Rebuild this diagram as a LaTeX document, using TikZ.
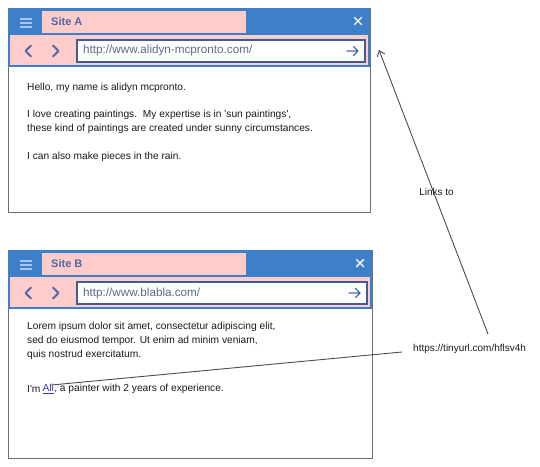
\documentclass[tikz,border=0pt]{standalone}
\usepackage{fontspec}
\setmainfont{Liberation Sans}
\usetikzlibrary{arrows.meta,calc}
\definecolor{hdrblue}{HTML}{3D7FC9}
\definecolor{tabpink}{HTML}{FFCCCC}
\definecolor{navblue}{HTML}{4A68A6}
\definecolor{barblue}{HTML}{3F5C99}
\definecolor{urlgray}{HTML}{5B6B88}
\definecolor{burger}{HTML}{A9C6F0}
\definecolor{framegray}{HTML}{6E6E6E}
\definecolor{linkblue}{HTML}{3434C0}
\definecolor{txt}{HTML}{1A1A1A}
\tikzset{
  frame/.style={draw=framegray, line width=1pt, fill=white},
  hdr/.style={fill=hdrblue},
  tabbox/.style={fill=tabpink},
  toolbar/.style={fill=tabpink, draw=hdrblue, line width=1.6pt},
  addr/.style={fill=white, draw=barblue, line width=1.6pt},
  sitetitle/.style={font=\fontsize{11}{13}\selectfont\bfseries, text=navblue, anchor=west, inner sep=0pt},
  urltext/.style={font=\fontsize{11.7}{13}\selectfont, text=urlgray, anchor=west, inner sep=0pt},
  body/.style={font=\fontsize{10.2}{12}\selectfont, text=txt, anchor=west, inner sep=0pt},
  note/.style={font=\fontsize{10}{12}\selectfont, text=txt, inner sep=1pt},
  navicon/.style={draw=navblue, line width=2pt, line cap=round, line join=round},
  burgerline/.style={draw=burger, line width=1.6pt},
  closeicon/.style={draw=white, line width=1.4pt, line cap=round},
  connector/.style={draw=black!70, line width=0.9pt},
}
\newcommand{\browserwin}[5]{% #1 name, #2 top y, #3 right x, #4 bottom y, #5 title
  \begin{scope}[shift={(0,#2)}]
    \path[frame] (8,0) rectangle (#3,#4-#2);
    \path[hdr] (8,0) rectangle (#3,26);
    \path[tabbox] (42,3) rectangle (246,26);
    \foreach \yy in {11,15,19} \draw[burgerline] (20,\yy) -- (32,\yy);
    \draw[closeicon] (#3-15.5,9.5) -- (#3-8.5,16.5) (#3-15.5,16.5) -- (#3-8.5,9.5);
    \node[sitetitle] (#1title) at (51,14) {#5};
    \path[toolbar] (8.8,26) rectangle (#3-0.8,58);
    \path[addr] (77,32) rectangle (#3-5,54);
    \draw[navicon] (31,37.5) -- (25.5,43) -- (31,48.5);
    \draw[navicon] (53,37.5) -- (58.5,43) -- (53,48.5);
    \draw[navicon, line width=1.3pt] (#3-23,43) -- (#3-12,43) (#3-16.5,38.5) -- (#3-12,43) -- (#3-16.5,47.5);
  \end{scope}
}
\begin{document}
\begin{tikzpicture}[x=1pt,y=-1pt]
\useasboundingbox (0,0) rectangle (540,466);
% Site A
\browserwin{a}{8}{370}{212}{Site A}
\node[urltext] (aurl) at (83,50) {http://www.alidyn-mcpronto.com/};
\node[body] (a1) at (27,88) {Hello, my name is alidyn mcpronto.};
\node[body] (a2) at (27,115) {I love creating paintings.\ \ My expertise is in \textquotesingle sun paintings\textquotesingle,};
\node[body] (a3) at (27,129) {these kind of paintings are created under sunny circumstances.};
\node[body] (a4) at (27,157) {I can also make pieces in the rain.};
% Site B
\browserwin{b}{250}{372}{458}{Site B}
\node[urltext] (burl) at (83,293) {http://www.blabla.com/};
\node[body] (b1) at (27,327) {Lorem ipsum dolor sit amet, consectetur adipiscing elit,};
\node[body] (b2) at (27,341) {sed do eiusmod tempor. Ut enim ad minim veniam,};
\node[body] (b3) at (27,355) {quis nostrud exercitatum.};
\node[body] (b4a) at (27,389) {I\textquotesingle m};
\node[body, anchor=west] (ali) at (b4a.east) {\,\textcolor{linkblue}{\underline{Ali}}};
\node[body, anchor=west] (b4b) at (ali.east) {, a painter with 2 years of experience.};
% short link
\node[note, anchor=west] (tiny) at (412,349) {https://tinyurl.com/hflsv4h};
\draw[connector] ($(ali.north)+(3,1)$) -- ($(tiny.west)+(-10,3)$);
% links to
\coordinate (from) at (488,334);
\coordinate (to) at (379,50);
\draw[connector, -{Straight Barb[length=5pt,width=8pt]}] (from) -- node[note, midway, xshift=3pt] (lbl) {Links to} (to);
\end{tikzpicture}
\end{document}
